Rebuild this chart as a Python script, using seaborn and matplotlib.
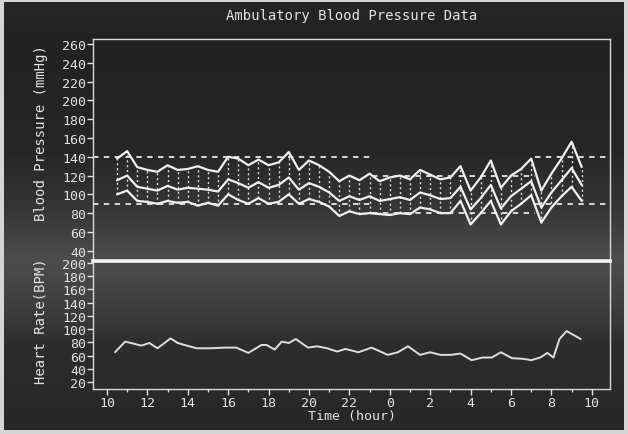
import numpy as np
import pandas as pd
import matplotlib
matplotlib.use("Agg")
import matplotlib.pyplot as plt
import seaborn as sns
from matplotlib.ticker import MultipleLocator, FixedLocator, FixedFormatter
from matplotlib.colors import LinearSegmentedColormap

# ---------------- data ----------------
bp_time = [10.5, 11.0, 11.5, 12.0, 12.5, 13.0, 13.5, 14.0, 14.5, 15.0, 15.5, 16.0,
           16.5, 17.0, 17.5, 18.0, 18.5, 19.0, 19.5, 20.0, 20.5, 21.0, 21.5, 22.0,
           22.5, 23.0, 23.5, 24.0, 24.5, 25.0, 25.5, 26.0, 26.5, 27.0, 27.5, 28.0,
           28.5, 29.0, 29.5, 30.0, 30.5, 31.0, 31.5, 32.0, 32.5, 33.0, 33.5]
systolic = [138, 146, 129, 126, 124, 131, 126, 127, 130, 126, 124, 140,
            138, 131, 137, 131, 134, 145, 126, 136, 131, 124, 114, 120,
            115, 122, 114, 118, 120, 116, 126, 121, 116, 118, 130, 104,
            118, 136, 107, 120, 127, 138, 104, 122, 138, 156, 129]
mean_bp = [115, 120, 108, 106, 104, 109, 105, 107, 106, 105, 103, 116,
           112, 107, 113, 107, 110, 118, 105, 112, 108, 102, 93, 98,
           94, 98, 93, 95, 97, 94, 102, 99, 95, 96, 108, 84,
           96, 110, 85, 98, 106, 114, 86, 102, 115, 128, 110]
diastolic = [100, 104, 93, 92, 90, 93, 91, 92, 88, 91, 88, 100,
             94, 90, 96, 90, 92, 100, 90, 95, 92, 87, 77, 82,
             79, 80, 79, 78, 80, 79, 86, 84, 80, 80, 93, 68,
             80, 93, 68, 82, 90, 99, 70, 86, 98, 108, 93]

hr_time = [10.4, 10.9, 11.2, 11.7, 12.1, 12.5, 13.15, 13.5, 13.95, 14.45, 15.1, 15.85,
           16.4, 17.0, 17.65, 17.9, 18.3, 18.65, 19.0, 19.35, 19.95, 20.4, 20.9, 21.4,
           21.8, 22.45, 23.1, 23.9, 24.4, 24.9, 25.5, 26.0, 26.5, 27.0, 27.5, 28.05,
           28.6, 29.05, 29.5, 30.05, 30.6, 31.0, 31.45, 31.8, 32.1, 32.4, 32.75, 33.45]
heart_rate = [65, 81, 79, 75, 79, 71, 86, 79, 75, 71, 71, 72,
              72, 64, 76, 76, 69, 81, 79, 85, 72, 74, 71, 66,
              70, 65, 72, 61, 65, 74, 61, 65, 61, 61, 63, 53,
              57, 57, 65, 56, 55, 53, 57, 64, 57, 85, 97, 85]

# limit lines: (start hour, end hour, upper limit, lower limit)
limit_start = [9.3, 23.1, 31.2]
limit_end = [23.1, 31.2, 34.9]
limit_upper = [140, 120, 140]
limit_lower = [90, 80, 90]

bp_ticks = list(range(40, 261, 20))
hr_ticks = list(range(20, 201, 20))
hour_ticks = list(range(10, 35, 2))
hour_labels = ["10", "12", "14", "16", "18", "20", "22", "0", "2", "4", "6", "8", "10"]

# ---------------- style ----------------
sns.set_style("dark")
plt.rcParams["font.family"] = ["DejaVu Sans Mono", "DejaVu Sans"]
FG = "#e2e2e2"
FS = 9.5

W, H = 628, 435
fig = plt.figure(figsize=(6.28, 4.35), dpi=100)
fig.patch.set_facecolor("#d4d4d4")

# background with soft vertical gradient (scanned screen look)
bg = fig.add_axes([0, 0, 1, 1], zorder=-10)
bg.set_xlim(0, W)
bg.set_ylim(H, 0)
bg.axis("off")
stops = [(0, "#262626"), (40, "#222222"), (150, "#262626"), (210, "#363636"),
         (262, "#4d4d4d"), (300, "#424242"), (350, "#2d2d2d"), (435, "#272727")]
cmap = LinearSegmentedColormap.from_list("bg", [(p / H, c) for p, c in stops])
grad = np.linspace(0, 1, 400).reshape(-1, 1)
bg.imshow(grad, cmap=cmap, aspect="auto", extent=(4, W - 4, H - 4, 3), vmin=0, vmax=1)

def px_axes(x0, y0, x1, y1):
    return [x0 / W, 1 - y1 / H, (x1 - x0) / W, (y1 - y0) / H]

ax1 = fig.add_axes(px_axes(93, 40, 610, 262))
ax2 = fig.add_axes(px_axes(93, 262, 610, 390))

for ax in (ax1, ax2):
    ax.set_facecolor("none")
    ax.grid(False)
    for s in ax.spines.values():
        s.set_visible(True)
        s.set_color("#d8d8d8")
        s.set_linewidth(1.0)
    ax.set_xlim(9.31, 34.9)
    ax.tick_params(colors=FG, labelsize=FS, length=4, width=1, direction="out",
                   pad=1, left=True, bottom=True)

ax1.spines["bottom"].set_visible(False)
ax2.spines["top"].set_color("#f4f4f4")
ax2.spines["top"].set_linewidth(2.6)

# ---------- upper panel: blood pressure ----------
bp_df = pd.DataFrame({
    "time": bp_time * 3,
    "value": systolic + mean_bp + diastolic,
    "series": ["Systolic"] * len(bp_time) + ["Mean"] * len(bp_time) + ["Diastolic"] * len(bp_time),
})
ax1.vlines(bp_time, diastolic, systolic, colors="#dcdcdc", linewidth=1.0,
           linestyles=(0, (1.5, 2.0)), zorder=2)
sns.lineplot(data=bp_df, x="time", y="value", hue="series", units="series",
             estimator=None, palette=["#f0f0f0", "#f0f0f0", "#f0f0f0"],
             linewidth=1.6, legend=False, ax=ax1, zorder=3)

for xs, xe, up, lo in zip(limit_start, limit_end, limit_upper, limit_lower):
    ax1.hlines([up, lo], xs, xe, colors="#e6e6e6", linewidth=1.3,
               linestyles=(0, (3, 3)), zorder=1)

ax1.set_ylim(29.1, 265.3)
ax1.yaxis.set_major_locator(FixedLocator(bp_ticks))
ax1.tick_params(axis="x", bottom=False, labelbottom=False)
ax1.set_xlabel("")
ax1.set_ylabel("Blood Pressure (mmHg)", color=FG, fontsize=FS + 0.5)
ax1.yaxis.set_label_coords(-0.088, 0.58)

# ---------- lower panel: heart rate ----------
hr_df = pd.DataFrame({"time": hr_time, "rate": heart_rate})
sns.lineplot(data=hr_df, x="time", y="rate", color="#dedede", linewidth=1.4,
             estimator=None, ax=ax2)
ax2.set_ylim(9.4, 203)
ax2.yaxis.set_major_locator(FixedLocator(hr_ticks))
ax2.xaxis.set_major_locator(FixedLocator(hour_ticks))
ax2.xaxis.set_major_formatter(FixedFormatter(hour_labels))
ax2.xaxis.set_minor_locator(MultipleLocator(1))
ax2.tick_params(axis="x", which="minor", length=2.5, width=1, colors=FG, bottom=True)
ax2.tick_params(axis="x", pad=1)
ax2.set_ylabel("Heart Rate(BPM)", color=FG, fontsize=FS + 0.5)
ax2.yaxis.set_label_coords(-0.088, 0.54)
ax2.set_xlabel("Time (hour)", color=FG, fontsize=FS, labelpad=0)

fig.text((93 + 610) / 2 / W, 1 - 16 / H, "Ambulatory Blood Pressure Data",
         color=FG, fontsize=FS + 0.5, ha="center", va="center")

fig.savefig("out.png", dpi=100, facecolor=fig.get_facecolor())
